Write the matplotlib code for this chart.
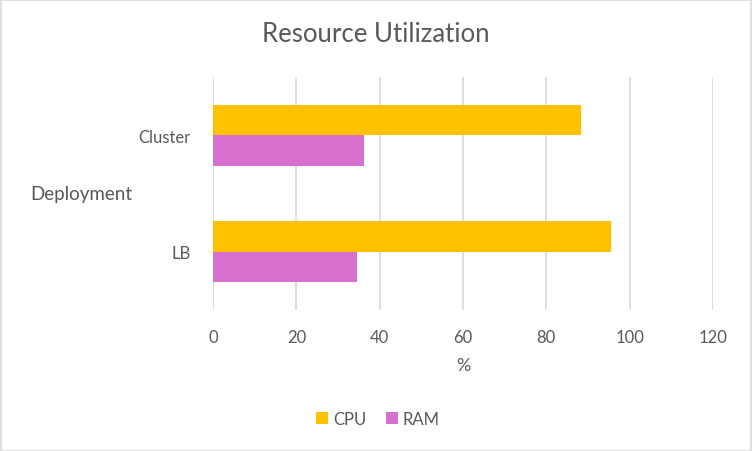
import numpy as np
import matplotlib.pyplot as plt
from matplotlib.patches import Rectangle

plt.rcParams['font.family'] = ['Lato', 'DejaVu Sans']

categories = ['LB', 'Cluster']
cpu_values = [95.6, 88.4]
ram_values = [34.5, 36.2]
x_ticks = [0, 20, 40, 60, 80, 100, 120]

cpu_color = '#FFC000'
ram_color = '#D76FCC'
text_color = '#595959'

fig = plt.figure(figsize=(7.52, 4.52), dpi=100)
ax = fig.add_axes([213 / 752, 1 - 311 / 452, 500 / 752, 233 / 452])

y = np.arange(len(categories))
h = 0.262
ax.barh(y + h / 2, cpu_values, height=h, color=cpu_color, label='CPU', zorder=3)
ax.barh(y - h / 2, ram_values, height=h, color=ram_color, label='RAM', zorder=3)

ax.set_xlim(0, 120)
ax.set_ylim(-0.5, 1.5)
ax.set_xticks(x_ticks)
ax.set_yticks(y)
ax.set_yticklabels(categories)
ax.tick_params(axis='x', length=0, colors=text_color, labelsize=12, pad=14)
ax.tick_params(axis='y', length=0, colors=text_color, labelsize=12, pad=16)
ax.grid(axis='x', color='#D9D9D9', linewidth=1.2, zorder=0)
for s in ax.spines.values():
    s.set_visible(False)

fig.text(376 / 752, 1 - 34 / 452, 'Resource Utilization', ha='center', va='center',
         fontsize=18.5, color=text_color)
fig.text(81 / 752, 1 - 195 / 452, 'Deployment', ha='center', va='center',
         fontsize=13.5, color=text_color)
fig.text(463 / 752, 1 - 366 / 452, '%', ha='center', va='center',
         fontsize=13, color=text_color)

leg = fig.legend(loc='center', bbox_to_anchor=(378 / 752, 1 - 420 / 452), ncol=2,
                 frameon=False, fontsize=12, handlelength=0.7, handleheight=0.7,
                 handletextpad=0.3, columnspacing=1.2)
for t in leg.get_texts():
    t.set_color(text_color)

fig.patches.append(Rectangle((0.5 / 752, 0.5 / 452), 1 - 1.5 / 752, 1 - 1.5 / 452,
                             transform=fig.transFigure, fill=False,
                             edgecolor='#D9D9D9', linewidth=1.2))

fig.savefig('out.png', dpi=100)
